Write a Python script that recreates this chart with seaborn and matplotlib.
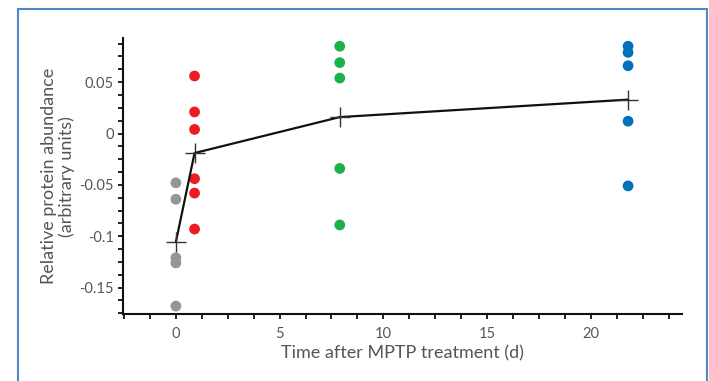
import numpy as np
import pandas as pd
import seaborn as sns
import matplotlib
matplotlib.use("Agg")
import matplotlib.pyplot as plt
from matplotlib.ticker import MultipleLocator, FixedLocator
from matplotlib.patches import Rectangle

# ---- data ----
group_times = [0.0, 0.9, 7.9, 21.8]
group_names = ["0 d", "1 d", "8 d", "22 d"]
group_colors = ["#949598", "#ED1C24", "#1DB14B", "#0072BC"]
values_0 = [-0.048, -0.064, -0.121, -0.126, -0.168]
values_1 = [0.056, 0.021, 0.004, -0.044, -0.058, -0.093]
values_8 = [0.085, 0.069, 0.054, -0.034, -0.089]
values_22 = [0.085, 0.079, 0.066, 0.012, -0.051]
mean_values = [-0.1055, -0.019, 0.016, 0.033]
x_ticks = [0, 5, 10, 15, 20]
y_ticks = [-0.15, -0.1, -0.05, 0, 0.05]
y_tick_labels = ["-0.15", "-0.1", "-0.05", "0", "0.05"]

rows = []
for name, t, vals in zip(group_names, group_times, [values_0, values_1, values_8, values_22]):
    for v in vals:
        rows.append({"group": name, "time": t, "value": v})
df = pd.DataFrame(rows)
df_mean = pd.DataFrame({"time": group_times, "mean": mean_values})

sns.set_theme(style="white")
plt.rcParams["font.family"] = ["Lato", "DejaVu Sans"]

fig = plt.figure(figsize=(7.09, 3.81), dpi=100)
ax = fig.add_axes([123 / 709, 1 - 314.3 / 381, (682 - 123) / 709, (314.3 - 38) / 381])

sns.scatterplot(data=df, x="time", y="value", hue="group", palette=group_colors,
                hue_order=group_names, s=60, edgecolor="none", legend=False, ax=ax, zorder=2)
sns.lineplot(data=df_mean, x="time", y="mean", color="#111111", linewidth=1.6, ax=ax,
             marker="+", markersize=14, markeredgewidth=1.0, markeredgecolor="#333333", zorder=3)

ax.set_xlim(-2.55, 24.4)
ax.set_ylim(-0.176, 0.093)

for s in ["top", "right"]:
    ax.spines[s].set_visible(False)
for s in ["left", "bottom"]:
    ax.spines[s].set_color("#111111")
    ax.spines[s].set_linewidth(1.5)

ax.xaxis.set_major_locator(FixedLocator(x_ticks))
ax.xaxis.set_minor_locator(MultipleLocator(1.25))
ax.yaxis.set_major_locator(FixedLocator(y_ticks))
ax.set_yticklabels(y_tick_labels)
ax.yaxis.set_minor_locator(MultipleLocator(0.0125))
ax.tick_params(axis="both", which="both", direction="out", length=3.5, width=1.3,
               color="#111111", left=True, bottom=True)
ax.tick_params(axis="y", which="major", labelsize=10.5, labelcolor="#555555", pad=3)
ax.tick_params(axis="x", which="major", labelsize=10.5, labelcolor="#555555", pad=6)

ax.set_xlabel("Time after MPTP treatment (d)", fontsize=13, color="#555555", labelpad=3)
ax.set_ylabel("Relative protein abundance\n(arbitrary units)", fontsize=13, color="#555555",
              labelpad=3, linespacing=1.15)

# blue frame around figure
fig.patches.append(Rectangle((18 / 709, -0.05), (707 - 18) / 709, 1 - 9 / 381 + 0.05,
                             transform=fig.transFigure, fill=False, edgecolor="#4F88C6",
                             linewidth=1.5))

fig.savefig("out.png", dpi=100)
